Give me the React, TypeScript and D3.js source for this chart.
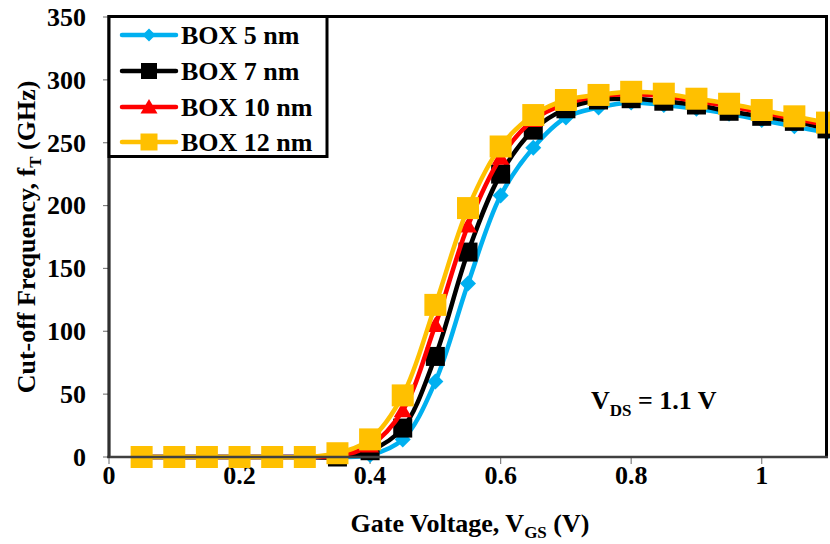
import React from "react";
import * as d3 from "d3";

// Gate voltage sweep (V)
const vgs = [0.05, 0.1, 0.15, 0.2, 0.25, 0.3, 0.35, 0.4, 0.45, 0.5, 0.55, 0.6, 0.65, 0.7, 0.75, 0.8, 0.85, 0.9, 0.95, 1.0, 1.05, 1.1];

// Cut-off frequency fT (GHz) for each buried-oxide thickness
const box5 = [0, 0, 0, 0, 0, 0, 0, 1.5, 14, 60, 138, 208, 246, 270, 278, 282, 280, 277, 273, 268, 263, 258];
const box7 = [0, 0, 0, 0, 0, 0, 0, 5, 23, 80, 163, 225, 260, 277, 284, 285, 283, 280, 275, 271, 267, 261];
const box10 = [0, 0, 0, 0, 0, 0, 1, 9, 37, 105, 184, 238, 268, 281, 287, 288.5, 287, 283, 279, 274, 269, 264];
const box12 = [0, 0, 0, 0, 0, 0, 3, 14, 49, 121, 198, 247, 272, 284, 288, 290.5, 289, 285, 281, 276, 271, 266];

const seriesNames = ["BOX 5 nm", "BOX 7 nm", "BOX 10 nm", "BOX 12 nm"];
const seriesValues = [box5, box7, box10, box12];
const seriesColors = ["#00B0F0", "#000000", "#FF0000", "#FFC000"];
const seriesMarkers = ["diamond", "square", "triangle", "square"];

const xTicks = [0, 0.2, 0.4, 0.6, 0.8, 1];
const yTicks = [0, 50, 100, 150, 200, 250, 300, 350];

const W = 830;
const H = 544;
const FONT = '"Liberation Serif", Tinos, "Times New Roman", Times, "DejaVu Serif", serif';

const markerPath = (kind: string, s: number) => {
  const h = s / 2;
  if (kind === "square") return `M${-h},${-h}H${h}V${h}H${-h}Z`;
  if (kind === "diamond") return `M0,${-h}L${h},0L0,${h}L${-h},0Z`;
  // triangle
  const th = s * 0.85;
  return `M0,${-th * 0.55}L${h},${th * 0.45}L${-h},${th * 0.45}Z`;
};

const plotMarkerSize = [16, 19, 18, 22];
const legendMarkerSize = [13, 16, 17, 17];

const txt: React.CSSProperties = { fontFamily: FONT, fontWeight: 700 };

export default function App() {
  const x = d3.scaleLinear().domain([0, 1.1]).range([109, 827]);
  const y = d3.scaleLinear().domain([0, 350]).range([457, 17]);

  const line = d3
    .line<number>()
    .x((_, i) => x(vgs[i]))
    .y((d) => y(d))
    .curve(d3.curveCatmullRom.alpha(0.5));

  const legendRows = [35, 71, 107, 142];

  return (
    <svg
      width={W}
      height={H}
      style={{ position: "absolute", left: 0, top: 0, background: "#fff" }}
    >
      <rect x={0} y={0} width={W} height={H} fill="#fff" />

      {/* y ticks and labels */}
      {yTicks.map((t) => (
        <g key={`y${t}`}>
          <line x1={103} x2={109} y1={y(t)} y2={y(t)} stroke="#808080" strokeWidth={1.2} />
          <text x={86} y={y(t)} dy="0.34em" textAnchor="end" fontSize={26} fill="#000" style={txt}>
            {t}
          </text>
        </g>
      ))}

      {/* x ticks and labels */}
      {xTicks.map((t) => (
        <g key={`x${t}`}>
          <line x1={x(t)} x2={x(t)} y1={457} y2={464} stroke="#808080" strokeWidth={1.2} />
          <text x={x(t)} y={484} textAnchor="middle" fontSize={26} fill="#000" style={txt}>
            {t}
          </text>
        </g>
      ))}

      {/* series */}
      {seriesValues.map((vals, si) => (
        <g key={seriesNames[si]}>
          <path d={line(vals) || ""} fill="none" stroke={seriesColors[si]} strokeWidth={4.5} strokeLinejoin="round" />
          {vals.map((v, i) => (
            <path
              key={i}
              d={markerPath(seriesMarkers[si], plotMarkerSize[si])}
              transform={`translate(${x(vgs[i])},${y(v)})`}
              fill={seriesColors[si]}
            />
          ))}
        </g>
      ))}

      {/* plot frame */}
      <path d={`M109,457V16.5H826.5V457`} fill="none" stroke="#000" strokeWidth={3} />
      <line x1={107} x2={828} y1={457} y2={457} stroke="#404040" strokeWidth={2.5} />
      <line x1={109} x2={109} y1={16} y2={458} stroke="#303030" strokeWidth={2} />

      {/* legend */}
      <rect x={109} y={16.5} width={218} height={140} fill="#fff" stroke="#000" strokeWidth={3} />
      {seriesNames.map((name, si) => (
        <g key={`lg${si}`}>
          <line x1={122} x2={176} y1={legendRows[si]} y2={legendRows[si]} stroke={seriesColors[si]} strokeWidth={4.5} strokeLinecap="round" />
          <path
            d={markerPath(seriesMarkers[si], legendMarkerSize[si])}
            transform={`translate(149,${legendRows[si]})`}
            fill={seriesColors[si]}
          />
          <text x={181} y={legendRows[si]} dy="0.34em" fontSize={26} fill="#000" style={txt}>
            {name}
          </text>
        </g>
      ))}

      {/* annotation */}
      <text x={591} y={409} fontSize={26} fill="#000" style={txt}>
        V<tspan fontSize={17} dy={7}>DS</tspan>
        <tspan dy={-7}> = 1.1 V</tspan>
      </text>

      {/* axis titles */}
      <text x={470} y={532} textAnchor="middle" fontSize={26} fill="#000" style={txt}>
        Gate Voltage, V<tspan fontSize={17} dy={6}>GS</tspan>
        <tspan dy={-6}>  (V)</tspan>
      </text>
      <text
        transform={`translate(35,237) rotate(-90)`}
        textAnchor="middle"
        fontSize={26}
        fill="#000"
        style={txt}
      >
        Cut-off Frequency, f<tspan fontSize={17} dy={6}>T</tspan>
        <tspan dy={-6}> (GHz)</tspan>
      </text>
    </svg>
  );
}
